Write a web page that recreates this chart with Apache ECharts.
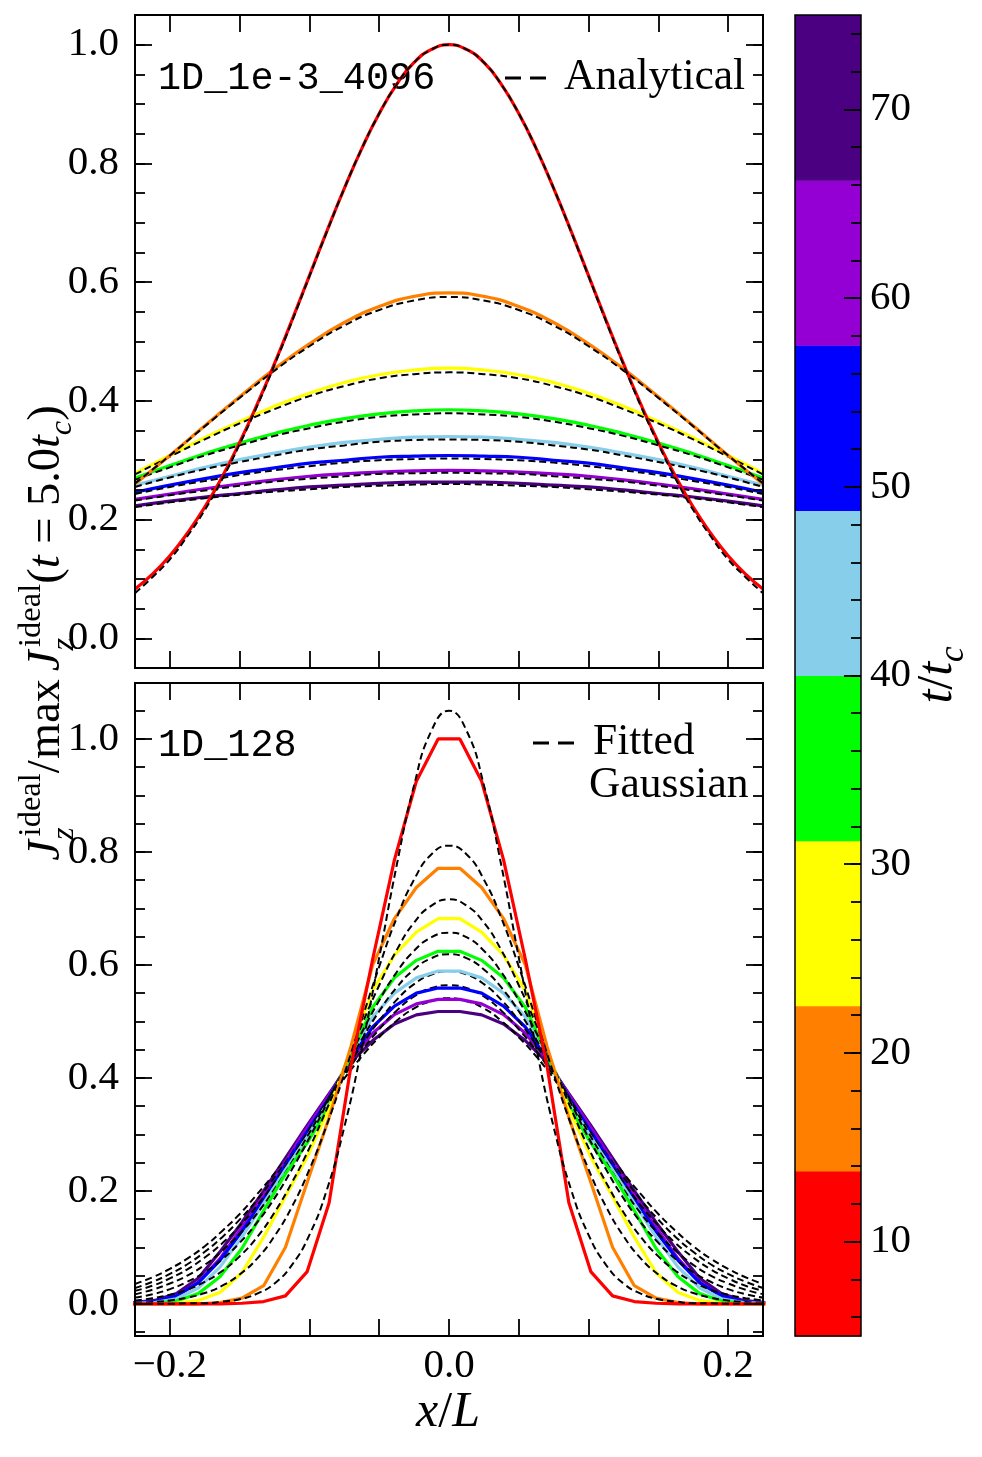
<!DOCTYPE html>
<html>
<head>
<meta charset="utf-8">
<script src="https://cdn.jsdelivr.net/npm/echarts@6/dist/echarts.min.js"></script>
<style>
    html, body {margin: 0; padding: 0; background: #fff;}
    #chart {width: 982px; height: 1457px;}
</style>
</head>
<body>
<div id="chart"></div>
<script>
// 上图 x 坐标 (1D_1e-3_4096)
const xTop = [-0.225, -0.2, -0.175, -0.15, -0.125, -0.1, -0.075, -0.05, -0.025, 0, 0.025, 0.05, 0.075, 0.1, 0.125, 0.15, 0.175, 0.2, 0.225]
// 红线较窄，取更密的点
const xTopFine = [-0.225, -0.2125, -0.2, -0.1875, -0.175, -0.1625, -0.15, -0.1375, -0.125, -0.1125, -0.1, -0.0875, -0.075, -0.0625, -0.05, -0.0375, -0.025, -0.0125, 0,
    0.0125, 0.025, 0.0375, 0.05, 0.0625, 0.075, 0.0875, 0.1, 0.1125, 0.125, 0.1375, 0.15, 0.1625, 0.175, 0.1875, 0.2, 0.2125, 0.225]

// 上图数值解 (实线)
const topRed = [0.083, 0.108, 0.139, 0.177, 0.221, 0.272, 0.33, 0.394, 0.463, 0.536, 0.611, 0.686, 0.758, 0.825, 0.884, 0.933, 0.97, 0.992, 1.0,
    0.992, 0.97, 0.933, 0.884, 0.825, 0.758, 0.686, 0.611, 0.536, 0.463, 0.394, 0.33, 0.272, 0.221, 0.177, 0.139, 0.108, 0.083]
const topOrange = [0.26, 0.308, 0.358, 0.407, 0.454, 0.496, 0.532, 0.559, 0.576, 0.582, 0.576, 0.559, 0.532, 0.496, 0.454, 0.407, 0.358, 0.308, 0.26]
const topYellow = [0.278, 0.308, 0.338, 0.365, 0.391, 0.413, 0.431, 0.444, 0.452, 0.455, 0.452, 0.444, 0.431, 0.413, 0.391, 0.365, 0.338, 0.308, 0.278]
const topGreen = [0.27, 0.291, 0.311, 0.329, 0.345, 0.359, 0.37, 0.378, 0.383, 0.385, 0.383, 0.378, 0.37, 0.359, 0.345, 0.329, 0.311, 0.291, 0.27]
const topSky = [0.258, 0.273, 0.288, 0.301, 0.312, 0.322, 0.33, 0.335, 0.339, 0.34, 0.339, 0.335, 0.33, 0.322, 0.312, 0.301, 0.288, 0.273, 0.258]
const topBlue = [0.246, 0.258, 0.269, 0.279, 0.287, 0.295, 0.3, 0.305, 0.307, 0.308, 0.307, 0.305, 0.3, 0.295, 0.287, 0.279, 0.269, 0.258, 0.246]
const topPurple = [0.234, 0.243, 0.252, 0.26, 0.267, 0.273, 0.277, 0.28, 0.282, 0.283, 0.282, 0.28, 0.277, 0.273, 0.267, 0.26, 0.252, 0.243, 0.234]
const topIndigo = [0.223, 0.231, 0.238, 0.244, 0.25, 0.255, 0.258, 0.261, 0.263, 0.263, 0.263, 0.261, 0.258, 0.255, 0.25, 0.244, 0.238, 0.231, 0.223]

// 上图解析解 (虚线)
const anaRed = [0.076, 0.103, 0.133, 0.172, 0.216, 0.268, 0.327, 0.391, 0.461, 0.534, 0.61, 0.685, 0.758, 0.825, 0.884, 0.933, 0.97, 0.992, 1.0,
    0.992, 0.97, 0.933, 0.884, 0.825, 0.758, 0.685, 0.61, 0.534, 0.461, 0.391, 0.327, 0.268, 0.216, 0.172, 0.133, 0.103, 0.076]
const anaOrange = [0.261, 0.308, 0.357, 0.405, 0.451, 0.492, 0.527, 0.553, 0.569, 0.575, 0.569, 0.553, 0.527, 0.492, 0.451, 0.405, 0.357, 0.308, 0.261]
const anaYellow = [0.276, 0.306, 0.335, 0.362, 0.386, 0.408, 0.425, 0.438, 0.445, 0.448, 0.445, 0.438, 0.425, 0.408, 0.386, 0.362, 0.335, 0.306, 0.276]
const anaGreen = [0.267, 0.288, 0.308, 0.325, 0.341, 0.354, 0.365, 0.373, 0.377, 0.379, 0.377, 0.373, 0.365, 0.354, 0.341, 0.325, 0.308, 0.288, 0.267]
const anaSky = [0.255, 0.271, 0.285, 0.297, 0.308, 0.318, 0.325, 0.331, 0.334, 0.335, 0.334, 0.331, 0.325, 0.318, 0.308, 0.297, 0.285, 0.271, 0.255]
const anaBlue = [0.243, 0.255, 0.265, 0.275, 0.283, 0.29, 0.296, 0.3, 0.302, 0.303, 0.302, 0.3, 0.296, 0.29, 0.283, 0.275, 0.265, 0.255, 0.243]
const anaPurple = [0.232, 0.241, 0.249, 0.257, 0.264, 0.269, 0.273, 0.277, 0.278, 0.279, 0.278, 0.277, 0.273, 0.269, 0.264, 0.257, 0.249, 0.241, 0.232]
const anaIndigo = [0.221, 0.229, 0.236, 0.242, 0.247, 0.251, 0.255, 0.257, 0.259, 0.26, 0.259, 0.257, 0.255, 0.251, 0.247, 0.242, 0.236, 0.229, 0.221]

// 下图网格中心 (1D_128)
const xCells = [-0.2266, -0.2109, -0.1953, -0.1797, -0.1641, -0.1484, -0.1328, -0.1172, -0.1016, -0.0859, -0.0703, -0.0547, -0.0391, -0.0234, -0.0078,
    0.0078, 0.0234, 0.0391, 0.0547, 0.0703, 0.0859, 0.1016, 0.1172, 0.1328, 0.1484, 0.1641, 0.1797, 0.1953, 0.2109, 0.2266]

const botRed = [0, 0, 0, 0, 0, 0.001, 0.004, 0.014, 0.057, 0.179, 0.42, 0.61, 0.786, 0.925, 1.0, 1.0, 0.925, 0.786, 0.61, 0.42, 0.179, 0.057, 0.014, 0.004, 0.001, 0, 0, 0, 0, 0]
const botOrange = [0, 0, 0, 0, 0.002, 0.01, 0.032, 0.1, 0.215, 0.33, 0.455, 0.6, 0.682, 0.737, 0.771, 0.771, 0.737, 0.682, 0.6, 0.455, 0.33, 0.215, 0.1, 0.032, 0.01, 0.002, 0, 0, 0, 0]
const botYellow = [0, 0, 0.001, 0.006, 0.02, 0.055, 0.118, 0.19, 0.26, 0.345, 0.45, 0.555, 0.617, 0.658, 0.682, 0.682, 0.658, 0.617, 0.555, 0.45, 0.345, 0.26, 0.19, 0.118, 0.055, 0.02, 0.006, 0.001, 0, 0]
const botGreen = [0, 0.001, 0.005, 0.018, 0.048, 0.098, 0.165, 0.23, 0.285, 0.35, 0.44, 0.525, 0.577, 0.608, 0.624, 0.624, 0.608, 0.577, 0.525, 0.44, 0.35, 0.285, 0.23, 0.165, 0.098, 0.048, 0.018, 0.005, 0.001, 0]
const botSky = [0.001, 0.002, 0.009, 0.028, 0.065, 0.118, 0.178, 0.237, 0.295, 0.36, 0.44, 0.508, 0.55, 0.577, 0.589, 0.589, 0.577, 0.55, 0.508, 0.44, 0.36, 0.295, 0.237, 0.178, 0.118, 0.065, 0.028, 0.009, 0.002, 0.001]
const botBlue = [0.001, 0.004, 0.014, 0.037, 0.077, 0.128, 0.185, 0.245, 0.305, 0.365, 0.435, 0.49, 0.527, 0.55, 0.559, 0.559, 0.55, 0.527, 0.49, 0.435, 0.365, 0.305, 0.245, 0.185, 0.128, 0.077, 0.037, 0.014, 0.004, 0.001]
const botPurple = [0.001, 0.004, 0.014, 0.038, 0.08, 0.135, 0.192, 0.252, 0.312, 0.37, 0.432, 0.479, 0.512, 0.531, 0.539, 0.539, 0.531, 0.512, 0.479, 0.432, 0.37, 0.312, 0.252, 0.192, 0.135, 0.08, 0.038, 0.014, 0.004, 0.001]
const botIndigo = [0.002, 0.006, 0.018, 0.045, 0.092, 0.144, 0.2, 0.258, 0.316, 0.372, 0.428, 0.466, 0.4955, 0.5115, 0.5175, 0.5175, 0.5115, 0.4955, 0.466, 0.428, 0.372, 0.316, 0.258, 0.2, 0.144, 0.092, 0.045, 0.018, 0.006, 0.002]

// 下图高斯拟合 (虚线)
const xFit = [-0.225, -0.2125, -0.2, -0.1875, -0.175, -0.1625, -0.15, -0.1375, -0.125, -0.1125, -0.1, -0.0875, -0.075, -0.0625, -0.05, -0.0375, -0.025, -0.0125, 0,
    0.0125, 0.025, 0.0375, 0.05, 0.0625, 0.075, 0.0875, 0.1, 0.1125, 0.125, 0.1375, 0.15, 0.1625, 0.175, 0.1875, 0.2, 0.2125, 0.225]

const fitRed = [0, 0, 0, 0.001, 0.001, 0.004, 0.008, 0.018, 0.036, 0.069, 0.122, 0.202, 0.313, 0.453, 0.613, 0.776, 0.918, 1.015, 1.05, 1.015, 0.918, 0.776, 0.613, 0.453, 0.313, 0.202, 0.122, 0.069, 0.036, 0.018, 0.008, 0.004, 0.001, 0.001, 0, 0, 0]
const fitOrange = [0.002, 0.003, 0.006, 0.011, 0.019, 0.032, 0.052, 0.08, 0.12, 0.172, 0.238, 0.317, 0.407, 0.503, 0.597, 0.683, 0.751, 0.796, 0.811, 0.796, 0.751, 0.683, 0.597, 0.503, 0.407, 0.317, 0.238, 0.172, 0.12, 0.08, 0.052, 0.032, 0.019, 0.011, 0.006, 0.003, 0.002]
const fitYellow = [0.006, 0.01, 0.016, 0.025, 0.039, 0.058, 0.084, 0.118, 0.162, 0.215, 0.276, 0.345, 0.419, 0.494, 0.564, 0.626, 0.675, 0.705, 0.716, 0.705, 0.675, 0.626, 0.564, 0.494, 0.419, 0.345, 0.276, 0.215, 0.162, 0.118, 0.084, 0.058, 0.039, 0.025, 0.016, 0.01, 0.006]
const fitGreen = [0.011, 0.017, 0.026, 0.039, 0.056, 0.079, 0.108, 0.144, 0.187, 0.238, 0.294, 0.355, 0.418, 0.48, 0.537, 0.587, 0.625, 0.649, 0.657, 0.649, 0.625, 0.587, 0.537, 0.48, 0.418, 0.355, 0.294, 0.238, 0.187, 0.144, 0.108, 0.079, 0.056, 0.039, 0.026, 0.017, 0.011]
const fitSky = [0.017, 0.025, 0.036, 0.05, 0.069, 0.094, 0.124, 0.16, 0.203, 0.251, 0.303, 0.358, 0.414, 0.468, 0.518, 0.56, 0.592, 0.612, 0.619, 0.612, 0.592, 0.56, 0.518, 0.468, 0.414, 0.358, 0.303, 0.251, 0.203, 0.16, 0.124, 0.094, 0.069, 0.05, 0.036, 0.025, 0.017]
const fitBlue = [0.023, 0.032, 0.045, 0.061, 0.082, 0.107, 0.138, 0.174, 0.215, 0.26, 0.309, 0.359, 0.41, 0.458, 0.501, 0.538, 0.566, 0.583, 0.589, 0.583, 0.566, 0.538, 0.501, 0.458, 0.41, 0.359, 0.309, 0.26, 0.215, 0.174, 0.138, 0.107, 0.082, 0.061, 0.045, 0.032, 0.023]
const fitPurple = [0.028, 0.039, 0.053, 0.07, 0.092, 0.118, 0.149, 0.184, 0.224, 0.267, 0.312, 0.359, 0.404, 0.448, 0.486, 0.519, 0.544, 0.559, 0.564, 0.559, 0.544, 0.519, 0.486, 0.448, 0.404, 0.359, 0.312, 0.267, 0.224, 0.184, 0.149, 0.118, 0.092, 0.07, 0.053, 0.039, 0.028]
const fitIndigo = [0.035, 0.047, 0.062, 0.08, 0.102, 0.129, 0.159, 0.194, 0.231, 0.272, 0.314, 0.357, 0.399, 0.438, 0.472, 0.501, 0.523, 0.536, 0.541, 0.536, 0.523, 0.501, 0.472, 0.438, 0.399, 0.357, 0.314, 0.272, 0.231, 0.194, 0.159, 0.129, 0.102, 0.08, 0.062, 0.047, 0.035]

// 色条 t/t_c
const cbBounds = [5, 13.75, 22.5, 31.25, 40, 48.75, 57.5, 66.25, 75]
const cbColors = ['#ff0000', '#ff8000', '#ffff00', '#00ff00', '#87ceeb', '#0000ff', '#9400d3', '#4b0082']

// 刻度
const xTicks = [-0.2, -0.15, -0.1, -0.05, 0, 0.05, 0.1, 0.15, 0.2]
const xLabels = [-0.2, 0, 0.2]
const yMinor = [-0.05, 0, 0.05, 0.1, 0.15, 0.2, 0.25, 0.3, 0.35, 0.4, 0.45, 0.5, 0.55, 0.6, 0.65, 0.7, 0.75, 0.8, 0.85, 0.9, 0.95, 1.0, 1.05]
const yMajor = [0, 0.2, 0.4, 0.6, 0.8, 1.0]
const cbMinor = [6, 8, 10, 12, 14, 16, 18, 20, 22, 24, 26, 28, 30, 32, 34, 36, 38, 40, 42, 44, 46, 48, 50, 52, 54, 56, 58, 60, 62, 64, 66, 68, 70, 72, 74]
const cbMajor = [10, 20, 30, 40, 50, 60, 70]

const serif = '"Liberation Serif"'
const mono = '"Liberation Mono"'

const fmt = (v) => (v < 0 ? '\u2212' : '') + Math.abs(v).toFixed(1)

const pairs = (xs, ys) => xs.map((x, i) => [x, ys[i]])

const lineSeries = (xs, ys, xIdx, yIdx, style, smooth) => ({
    type: 'line', xAxisIndex: xIdx, yAxisIndex: yIdx,
    data: pairs(xs, ys), symbol: 'none', smooth: smooth,
    lineStyle: style, silent: true, clip: true,
})

const tickAxis = (gridIndex, position, min, max, ticks, len, labels, margin) => ({
    type: 'value', gridIndex, position, min, max, z: 5,
    axisLine: {show: false, onZero: false},
    splitLine: {show: false},
    axisTick: {show: true, inside: true, length: len, customValues: ticks, lineStyle: {color: '#000', width: 1.8}},
    axisLabel: labels ? {
        show: true, customValues: labels, formatter: labels === cbMajor ? (v) => String(v) : fmt,
        fontFamily: serif, fontSize: 41, color: '#000', margin: margin,
    } : {show: false},
})

// 测量文字宽度
const measureCtx = document.createElement('canvas').getContext('2d')
const textWidth = (txt, font) => {
    measureCtx.font = font
    return measureCtx.measureText(txt).width
}

// 排一行带上下标的文字，中心在 0
const mathPieces = (pieces, size) => {
    let cursor = 0, start = 0
    const placed = pieces.map(p => {
        const fs = p.small ? size * 0.7 : size
        const font = `${p.it ? 'italic ' : ''}${fs.toFixed(1)}px ${serif}`
        const dx = (p.dx || 0) * size
        const w = textWidth(p.t, font)
        if (p.stack) {
            cursor = Math.max(cursor, start + dx + w)
        } else {
            start = cursor + (p.gap || 0) * size
            cursor = start + dx + w
        }
        return {p, fs, font, x: start + dx}
    })
    return {
        width: cursor,
        children: placed.map(o => ({
            type: 'text', x: o.x - cursor / 2, y: (o.p.shift || 0) * size - 0.34 * o.fs,
            style: {text: o.p.t, font: o.font, fill: '#000', verticalAlign: 'middle', align: 'left'},
        })),
    }
}

const yLabelPieces = [
    {t: 'J', it: true},
    {t: 'z', it: true, small: true, shift: 0.28},
    {t: 'ideal', small: true, shift: -0.45, stack: true, dx: 0.08},
    {t: '/'},
    {t: 'max', gap: 0.03},
    {t: 'J', it: true, gap: 0.17},
    {t: 'z', it: true, small: true, shift: 0.28},
    {t: 'ideal', small: true, shift: -0.45, stack: true, dx: 0.08},
    {t: '('},
    {t: 't', it: true},
    {t: ' = 5.0'},
    {t: 't', it: true},
    {t: 'c', it: true, small: true, shift: 0.22},
    {t: ')'},
]
const xLabelPieces = [{t: 'x', it: true}, {t: '/'}, {t: 'L', it: true}]
const cbLabelPieces = [{t: 't', it: true}, {t: '/'}, {t: 't', it: true}, {t: 'c', it: true, small: true, shift: 0.22}]

const buildOption = () => {
    const topSolid = [topRed, topOrange, topYellow, topGreen, topSky, topBlue, topPurple, topIndigo]
    const topAna = [anaRed, anaOrange, anaYellow, anaGreen, anaSky, anaBlue, anaPurple, anaIndigo]
    const botSolid = [botRed, botOrange, botYellow, botGreen, botSky, botBlue, botPurple, botIndigo]
    const botFit = [fitRed, fitOrange, fitYellow, fitGreen, fitSky, fitBlue, fitPurple, fitIndigo]
    const dash = {color: '#000', width: 2, type: [7, 4]}

    const series = []
    // 晚的先画，红色在最上
    for (let i = 7; i >= 0; i--) {
        const xs = i === 0 ? xTopFine : xTop
        series.push(lineSeries(xs, topSolid[i], 0, 0, {color: cbColors[i], width: 3.2}, 0.5))
        series.push(lineSeries(xs, topAna[i], 0, 0, dash, 0.5))
    }
    for (let i = 7; i >= 0; i--) {
        series.push(lineSeries(xCells, botSolid[i], 2, 4, {color: cbColors[i], width: 3.2}, false))
        series.push(lineSeries(xFit, botFit[i], 2, 4, dash, 0.5))
    }
    // 色条
    series.push({
        type: 'custom', xAxisIndex: 4, yAxisIndex: 8, silent: true,
        data: cbColors.map((c, i) => [0.5, cbBounds[i], cbBounds[i + 1], i]),
        encode: {x: 0, y: [1, 2]},
        renderItem: (params, api) => {
            const p0 = api.coord([0, api.value(2)])
            const p1 = api.coord([1, api.value(1)])
            return {
                type: 'rect',
                shape: {x: p0[0], y: p0[1], width: p1[0] - p0[0], height: p1[1] - p0[1] + 0.5},
                style: {fill: cbColors[api.value(3)]},
            }
        },
    })

    const yLab0 = mathPieces(yLabelPieces, 42)
    const yLab = mathPieces(yLabelPieces, Math.min(48, 42 * 455 / yLab0.width))
    const xLab = mathPieces(xLabelPieces, 50)
    const cbLab = mathPieces(cbLabelPieces, 50)

    const frame = (x, y, w, h, lw) => ({
        type: 'rect', z: 100, silent: true, shape: {x, y, width: w, height: h},
        style: {fill: 'none', stroke: '#000', lineWidth: lw},
    })

    return {
        animation: false,
        backgroundColor: '#fff',
        grid: [
            {left: 135, top: 15, width: 628, height: 653},
            {left: 135, top: 683, width: 628, height: 653},
            {left: 795, top: 15, width: 66, height: 1321},
        ],
        xAxis: [
            tickAxis(0, 'bottom', -0.225, 0.225, xTicks, 17, null),
            tickAxis(0, 'top', -0.225, 0.225, xTicks, 17, null),
            tickAxis(1, 'bottom', -0.225, 0.225, xTicks, 17, xLabels, 10),
            tickAxis(1, 'top', -0.225, 0.225, xTicks, 17, null),
            {type: 'value', gridIndex: 2, min: 0, max: 1, show: false},
        ],
        yAxis: [
            tickAxis(0, 'left', -0.05, 1.05, yMinor, 10, null),
            tickAxis(0, 'left', -0.05, 1.05, yMajor, 17, yMajor, 16),
            tickAxis(0, 'right', -0.05, 1.05, yMinor, 10, null),
            tickAxis(0, 'right', -0.05, 1.05, yMajor, 17, null),
            tickAxis(1, 'left', -0.057, 1.099, yMinor, 10, null),
            tickAxis(1, 'left', -0.057, 1.099, yMajor, 17, yMajor, 16),
            tickAxis(1, 'right', -0.057, 1.099, yMinor, 10, null),
            tickAxis(1, 'right', -0.057, 1.099, yMajor, 17, null),
            tickAxis(2, 'right', 5, 75, cbMinor, 10, null),
            tickAxis(2, 'right', 5, 75, cbMajor, 17, cbMajor, 9),
        ],
        series,
        graphic: [
            frame(135, 15, 628, 653, 2),
            frame(135, 683, 628, 653, 2),
            frame(795, 15, 66, 1321, 1.5),
            {type: 'text', x: 158, y: 79, style: {text: '1D_1e-3_4096', font: `38.5px ${mono}`, fill: '#000', verticalAlign: 'middle'}},
            {type: 'text', x: 158, y: 746, style: {text: '1D_128', font: `38.5px ${mono}`, fill: '#000', verticalAlign: 'middle'}},
            {type: 'line', shape: {x1: 505, y1: 78, x2: 547, y2: 78}, style: {stroke: '#000', lineWidth: 3, lineDash: [16, 9]}},
            {type: 'text', x: 564, y: 78, style: {text: 'Analytical', font: `43.5px ${serif}`, fill: '#000', verticalAlign: 'middle'}},
            {type: 'line', shape: {x1: 533, y1: 743, x2: 575, y2: 743}, style: {stroke: '#000', lineWidth: 3, lineDash: [16, 9]}},
            {type: 'text', x: 593, y: 743, style: {text: 'Fitted', font: `43.5px ${serif}`, fill: '#000', verticalAlign: 'middle'}},
            {type: 'text', x: 589, y: 786, style: {text: 'Gaussian', font: `43.5px ${serif}`, fill: '#000', verticalAlign: 'middle'}},
            {type: 'group', x: 448, y: 1430, children: xLab.children},
            {type: 'group', x: 63, y: 633, rotation: Math.PI / 2, children: yLab.children},
            {type: 'group', x: 955, y: 675, rotation: Math.PI / 2, children: cbLab.children},
        ],
    }
}

const chart = echarts.init(document.getElementById('chart'))
chart.setOption(buildOption())
</script>
</body>
</html>
